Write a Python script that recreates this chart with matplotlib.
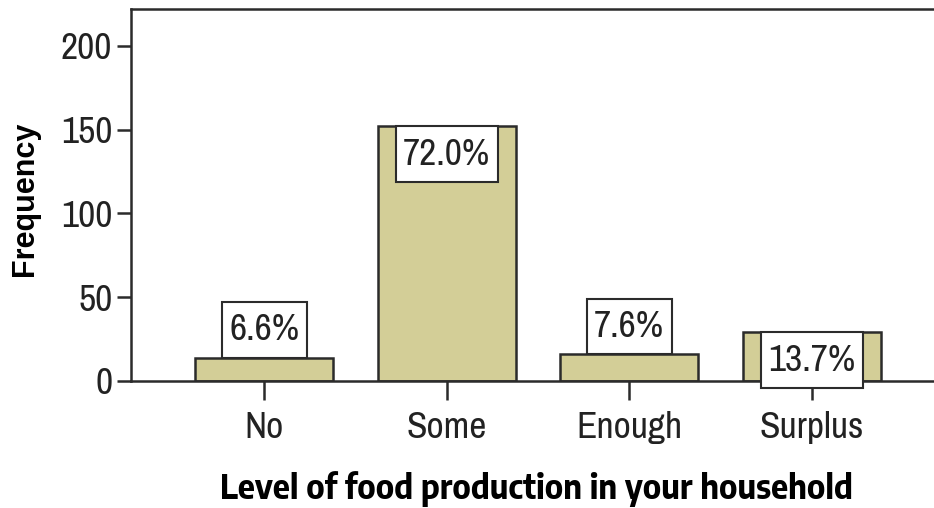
import matplotlib
matplotlib.use("Agg")
import matplotlib.pyplot as plt
from matplotlib import font_manager
from matplotlib.path import Path

categories = ["No", "Some", "Enough", "Surplus"]
frequency = [14, 152, 16, 29]
percent_labels = ["6.6%", "72.0%", "7.6%", "13.7%"]
y_ticks = [0, 50, 100, 150, 200]

entries = font_manager.fontManager.ttflist
names = {f.name for f in entries}
narrow = next((n for n in ("Liberation Sans Narrow", "Archivo Narrow", "Arimo")
               if n in names), "Liberation Sans")
bold_narrow = next((n for n in ("Liberation Sans Narrow", "Archivo Narrow",
                                "Encode Sans Semi Condensed", "Barlow Semi Condensed")
                    if any(f.name == n and int(f.weight) >= 700 for f in entries)),
                   "Liberation Sans")
plt.rcParams["font.family"] = [narrow, "DejaVu Sans"]

W, H, DPI = 934, 508, 100
fig = plt.figure(figsize=(W / DPI, H / DPI), dpi=DPI)
ax = fig.add_axes([131 / W, 127 / H, (945 - 131) / W, (381 - 9) / H])

edge = "#2b2b2b"
ink = "#222222"
ax.bar(range(len(categories)), frequency, width=0.756, color="#D3CE97",
       edgecolor=edge, linewidth=1.8, zorder=2)

ax.set_xlim(-0.73, len(categories) - 1 + 0.73)
ax.set_ylim(0, 222)
ax.set_yticks(y_ticks)
ax.set_xticks(range(len(categories)))
ax.set_xticklabels(categories)

for side in ("left", "top", "bottom", "right"):
    ax.spines[side].set_color(edge)
    ax.spines[side].set_linewidth(1.8)
ax.spines["bottom"].set_zorder(3)

fs = 27
ax.tick_params(axis="y", direction="out", length=10, width=1.8, color=edge,
               labelsize=fs, labelcolor=ink, pad=3.5)
ax.tick_params(axis="x", direction="out", length=13.5, width=1.8, color=edge,
               labelsize=fs, labelcolor=ink, pad=8)


def label_box(x0, y0, width, height, mutation_size):
    # rectangle with more room above and below the text than at the sides
    px, py = 0.2 * mutation_size, 0.3 * mutation_size
    x0, y0 = x0 - px, y0 - py
    x1, y1 = x0 + width + 2 * px, y0 + height + 2 * py
    return Path([(x0, y0), (x1, y0), (x1, y1), (x0, y1), (x0, y0)], closed=True)


pad_pts = 0.3 * fs
for i, (v, lab) in enumerate(zip(frequency, percent_labels)):
    inside = v >= 20
    ax.annotate(lab, xy=(i, v), xytext=(0, -pad_pts if inside else pad_pts),
                textcoords="offset points", ha="center",
                va="top" if inside else "bottom", fontsize=fs, color=ink,
                bbox=dict(boxstyle=label_box, fc="white", ec=edge, lw=1.5),
                zorder=4, annotation_clip=False)

ax.set_ylabel("Frequency", fontsize=22, fontweight="bold",
              family=["Liberation Sans", "DejaVu Sans"], color="black")
ax.yaxis.set_label_coords(-(131 - 40) / (945 - 131), (381 - 199) / (381 - 9))
xlab = ax.set_xlabel("Level of food production in your household", fontsize=24,
                     fontweight="bold", family=[bold_narrow, "DejaVu Sans"],
                     color="black")
ax.xaxis.set_label_coords((536 - 131) / (945 - 131), -(471 - 381) / (381 - 9))

# scale the x-axis title to its intended length in pixels
renderer = fig.canvas.get_renderer()
ext = xlab.get_window_extent(renderer)
xlab.set_fontsize(xlab.get_fontsize() * 633 / ext.width)

fig.savefig("out.png", dpi=DPI, facecolor="white")
